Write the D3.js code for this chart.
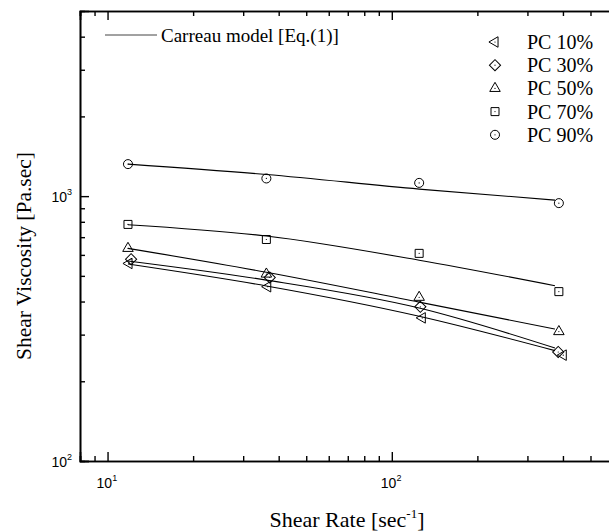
<!DOCTYPE html>
<html>
<head>
<meta charset="utf-8">
<script src="https://cdn.jsdelivr.net/npm/d3@7"></script>
<style>
  html, body { margin: 0; padding: 0; background: #fff; }
  svg { display: block; }
</style>
</head>
<body>
<div id="chart"></div>
<script>
// Data (shear rate in 1/s, viscosity in Pa.s)
const seriesNames = ["PC 10%", "PC 30%", "PC 50%", "PC 70%", "PC 90%"];
const symbolKinds = ["triangleLeft", "diamond", "triangleUp", "square", "circle"];

const rate10 = [11.9, 36.6, 128, 401];
const rate30 = [12.1, 37.2, 126, 385];
const rate50 = [11.8, 36.2, 124.8, 387];
const rate70 = [11.8, 36.2, 124.8, 387];
const rate90 = [11.8, 36.2, 124.8, 387];

const visc10 = [557, 455, 347, 251];
const visc30 = [578, 493, 382, 258];
const visc50 = [635, 508, 415, 308];
const visc70 = [782, 686, 608, 436];
const visc90 = [1321, 1166, 1122, 941];

// Carreau fit curves, sampled at these shear rates
const fitRate = [11.8, 36.2, 124.8, 375];
const fit10 = [554, 458, 352, 261];
const fit30 = [569, 482, 378, 267];
const fit50 = [635, 516, 398, 315];
const fit70 = [780, 707, 573, 459];
const fit90 = [1321, 1207, 1063, 966];

const xMajor = [10, 100];
const xMinor = [8, 9, 20, 30, 40, 50, 60, 70, 80, 90, 200, 300, 400, 500];
const yMajor = [100, 1000];
const yMinor = [200, 300, 400, 500, 600, 700, 800, 900, 2000, 3000, 4000];

const rates = [rate10, rate30, rate50, rate70, rate90];
const viscs = [visc10, visc30, visc50, visc70, visc90];
const fits = [fit10, fit30, fit50, fit70, fit90];

const width = 609, height = 532;
const margin = { left: 80, right: 613, top: 11, bottom: 461 };
const serif = "'Liberation Serif', 'Times New Roman', serif";
const sans = "'Liberation Sans', Arial, sans-serif";

const svg = d3.select("#chart").append("svg")
  .attr("width", width).attr("height", height);

const x = d3.scaleLog().domain([8, 600]).range([margin.left, margin.right]);
const y = d3.scaleLog().domain([100, 5000]).range([margin.bottom, margin.top]);

// frame + ticks (all ticks point inward)
function tickAxis(axisFn, scale, values, size, transform) {
  const g = svg.append("g")
    .attr("transform", transform)
    .call(axisFn(scale).tickValues(values).tickSize(-size).tickFormat(""));
  g.select(".domain").attr("stroke", "#000").attr("stroke-width", 1.6);
  g.selectAll(".tick line").attr("stroke", "#000").attr("stroke-width", 1.4);
  return g;
}

tickAxis(d3.axisBottom, x, xMinor, 5, `translate(0,${margin.bottom})`);
tickAxis(d3.axisBottom, x, xMajor, 9, `translate(0,${margin.bottom})`);
tickAxis(d3.axisTop, x, xMinor, 5, `translate(0,${margin.top})`);
tickAxis(d3.axisTop, x, xMajor, 9, `translate(0,${margin.top})`);
tickAxis(d3.axisLeft, y, yMinor, 5, `translate(${margin.left},0)`);
tickAxis(d3.axisLeft, y, yMajor, 9, `translate(${margin.left},0)`);

// tick labels with superscripts
xMajor.forEach(v => {
  const t = svg.append("text")
    .attr("x", x(v) - 11).attr("y", 488)
    .style("font-family", sans).style("font-size", "14px");
  t.append("tspan").text("10");
  t.append("tspan").attr("dy", -7).style("font-size", "9px").text(Math.round(Math.log10(v)));
});
yMajor.forEach(v => {
  const t = svg.append("text")
    .attr("x", 72).attr("y", y(v) + 6)
    .attr("text-anchor", "end")
    .style("font-family", sans).style("font-size", "14px");
  t.append("tspan").text("10");
  t.append("tspan").attr("dy", -7).style("font-size", "9px").text(Math.round(Math.log10(v)));
});

// axis titles
const xt = svg.append("text")
  .attr("x", 347).attr("y", 527)
  .attr("text-anchor", "middle")
  .style("font-family", serif).style("font-size", "22px");
xt.append("tspan").text("Shear Rate [sec");
xt.append("tspan").attr("dy", -9).style("font-size", "13px").text("-1");
xt.append("tspan").attr("dy", 9).text("]");

svg.append("text")
  .attr("transform", "translate(31,256) rotate(-90)")
  .attr("text-anchor", "middle")
  .style("font-family", serif).style("font-size", "21.5px")
  .text("Shear Viscosity [Pa.sec]");

// markers
function symbolPath(kind) {
  if (kind === "circle") return d3.symbol(d3.symbolCircle, 64)();
  if (kind === "square") return d3.symbol(d3.symbolSquare, 64)();
  if (kind === "diamond") return d3.symbol(d3.symbolSquare, 62)();
  return d3.symbol(d3.symbolTriangle, 48)();
}
function symbolRotate(kind) {
  if (kind === "diamond") return 45;
  if (kind === "triangleLeft") return -90;
  return 0;
}
function drawMarker(g, kind, cx, cy) {
  const m = g.append("g").attr("transform", `translate(${cx},${cy})`);
  m.append("path")
    .attr("d", symbolPath(kind))
    .attr("transform", `rotate(${symbolRotate(kind)})`)
    .attr("fill", "none").attr("stroke", "#000").attr("stroke-width", 1);
  m.append("circle").attr("r", 0.6).attr("fill", "#000");
}

const line = d3.line()
  .x(d => x(d[0])).y(d => y(d[1]))
  .curve(d3.curveMonotoneX);

const plot = svg.append("g");
fits.forEach(f => {
  plot.append("path")
    .datum(fitRate.map((r, i) => [r, f[i]]))
    .attr("d", line)
    .attr("fill", "none").attr("stroke", "#000").attr("stroke-width", 1.1);
});
viscs.forEach((vs, s) => {
  vs.forEach((v, i) => drawMarker(plot, symbolKinds[s], x(rates[s][i]), y(v)));
});

// legend
svg.append("line")
  .attr("x1", 105).attr("x2", 157).attr("y1", 35).attr("y2", 35)
  .attr("stroke", "#444").attr("stroke-width", 1);
svg.append("text")
  .attr("x", 161).attr("y", 42)
  .style("font-family", serif).style("font-size", "19px")
  .text("Carreau model [Eq.(1)]");

seriesNames.forEach((name, i) => {
  const ly = 42 + i * 23.2;
  drawMarker(svg, symbolKinds[i], 495, ly);
  svg.append("text")
    .attr("x", 527).attr("y", ly + 7)
    .style("font-family", serif).style("font-size", "20px")
    .text(name);
});
</script>
</body>
</html>
